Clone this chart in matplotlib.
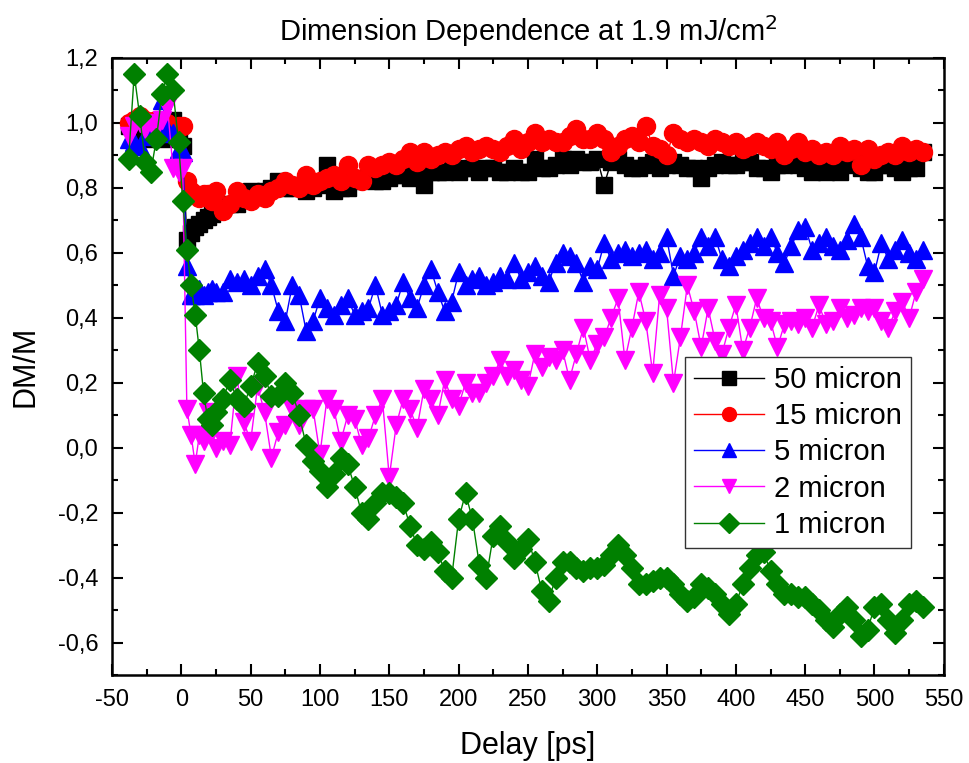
import numpy as np
import matplotlib
matplotlib.use("Agg")
import matplotlib.pyplot as plt
from matplotlib.ticker import MultipleLocator, FuncFormatter

plt.rcParams['font.family'] = ['Liberation Sans', 'DejaVu Sans']
plt.rcParams['axes.unicode_minus'] = False

# delay values [ps], shared by all five series
delay = [-38, -34, -30, -26, -22, -18, -14, -10, -6, -2,
         1, 4, 7, 10, 13, 16, 19, 22, 25,
         30, 35, 40, 45, 50, 55, 60, 65, 70, 75,
         80, 85, 90, 95, 100, 105, 110, 115, 120, 125,
         130, 135, 140, 145, 150, 155, 160, 165, 170, 175,
         180, 185, 190, 195, 200, 205, 210, 215, 220, 225,
         230, 235, 240, 245, 250, 255, 260, 265, 270, 275,
         280, 285, 290, 295, 300, 305, 310, 315, 320, 325,
         330, 335, 340, 345, 350, 355, 360, 365, 370, 375,
         380, 385, 390, 395, 400, 405, 410, 415, 420, 425,
         430, 435, 440, 445, 450, 455, 460, 465, 470, 475,
         480, 485, 490, 495, 500, 505, 510, 515, 520, 525,
         530, 535]

dm_50 = [0.99, 0.97, 0.96, 0.97, 0.95, 0.97, 0.95, 0.97, 1.01, 0.95,
         0.93, 0.64, 0.66, 0.68, 0.69, 0.70, 0.71, 0.72, 0.73,
         0.74, 0.75, 0.75, 0.77, 0.79, 0.78, 0.79, 0.80, 0.82, 0.80,
         0.80, 0.81, 0.79, 0.80, 0.81, 0.87, 0.79, 0.80, 0.80, 0.82,
         0.83, 0.83, 0.82, 0.82, 0.83, 0.84, 0.84, 0.83, 0.84, 0.81,
         0.85, 0.85, 0.85, 0.86, 0.85, 0.86, 0.86, 0.85, 0.86, 0.86,
         0.85, 0.85, 0.86, 0.85, 0.85, 0.89, 0.86, 0.86, 0.87, 0.89,
         0.87, 0.89, 0.88, 0.88, 0.89, 0.81, 0.88, 0.89, 0.87, 0.86,
         0.86, 0.87, 0.88, 0.86, 0.87, 0.88, 0.87, 0.86, 0.86, 0.83,
         0.86, 0.87, 0.88, 0.87, 0.87, 0.88, 0.88, 0.86, 0.86, 0.85,
         0.87, 0.87, 0.88, 0.87, 0.86, 0.85, 0.86, 0.85, 0.86, 0.85,
         0.87, 0.88, 0.86, 0.85, 0.85, 0.87, 0.87, 0.86, 0.85, 0.86,
         0.86, 0.91]

dm_15 = [1.00, 1.01, 1.02, 1.01, 1.00, 1.01, 0.99, 1.00, 0.98, 0.99,
         0.99, 0.82, 0.79, 0.78, 0.77, 0.78, 0.78, 0.76, 0.79,
         0.73, 0.75, 0.79, 0.77, 0.76, 0.78, 0.77, 0.79, 0.80, 0.82,
         0.81, 0.80, 0.84, 0.81, 0.82, 0.83, 0.84, 0.82, 0.87, 0.83,
         0.82, 0.87, 0.86, 0.87, 0.88, 0.87, 0.89, 0.91, 0.88, 0.91,
         0.89, 0.90, 0.91, 0.90, 0.92, 0.93, 0.91, 0.92, 0.93, 0.92,
         0.91, 0.93, 0.95, 0.92, 0.94, 0.97, 0.94, 0.95, 0.94, 0.94,
         0.96, 0.98, 0.95, 0.95, 0.97, 0.95, 0.91, 0.93, 0.95, 0.96,
         0.94, 0.99, 0.93, 0.92, 0.90, 0.97, 0.95, 0.94, 0.95, 0.94,
         0.93, 0.95, 0.94, 0.93, 0.94, 0.92, 0.93, 0.94, 0.93, 0.92,
         0.94, 0.90, 0.92, 0.94, 0.91, 0.92, 0.90, 0.91, 0.90, 0.93,
         0.91, 0.92, 0.87, 0.92, 0.89, 0.90, 0.91, 0.90, 0.93, 0.91,
         0.92, 0.91]

dm_5 = [0.95, 0.94, 0.93, 0.96, 0.98, 1.00, 1.07, 0.98, 0.97, 0.92,
        0.91, 0.56, 0.47, 0.47, 0.49, 0.47, 0.48, 0.49, 0.48,
        0.48, 0.52, 0.51, 0.52, 0.50, 0.53, 0.55, 0.50, 0.42, 0.39,
        0.50, 0.47, 0.36, 0.39, 0.46, 0.43, 0.41, 0.44, 0.46, 0.41,
        0.42, 0.43, 0.50, 0.41, 0.42, 0.44, 0.51, 0.46, 0.43, 0.50,
        0.55, 0.48, 0.42, 0.45, 0.54, 0.50, 0.52, 0.53, 0.50, 0.51,
        0.53, 0.52, 0.57, 0.52, 0.54, 0.56, 0.53, 0.51, 0.57, 0.60,
        0.59, 0.57, 0.51, 0.56, 0.55, 0.63, 0.58, 0.60, 0.61, 0.59,
        0.60, 0.61, 0.58, 0.60, 0.65, 0.53, 0.59, 0.58, 0.60, 0.65,
        0.62, 0.65, 0.58, 0.56, 0.59, 0.61, 0.63, 0.65, 0.62, 0.65,
        0.60, 0.57, 0.62, 0.67, 0.68, 0.61, 0.63, 0.65, 0.62, 0.61,
        0.64, 0.69, 0.65, 0.56, 0.54, 0.63, 0.58, 0.61, 0.64, 0.60,
        0.58, 0.61]

dm_2 = [0.96, 0.99, 1.00, 0.98, 1.00, 0.98, 1.01, 1.05, 0.86, 0.85,
        0.86, 0.12, 0.04, -0.05, 0.04, 0.02, 0.11, 0.05, 0.00,
        0.02, 0.01, 0.22, 0.08, 0.02, 0.19, 0.11, -0.03, 0.05, 0.07,
        0.12, 0.07, 0.12, 0.12, -0.02, 0.15, 0.12, 0.02, 0.10, 0.09,
        0.01, 0.03, 0.10, 0.15, -0.09, 0.07, 0.15, 0.12, 0.06, 0.18,
        0.15, 0.10, 0.21, 0.15, 0.13, 0.20, 0.17, 0.17, 0.20, 0.22,
        0.27, 0.22, 0.24, 0.21, 0.19, 0.29, 0.25, 0.28, 0.27, 0.30,
        0.21, 0.29, 0.37, 0.27, 0.32, 0.34, 0.40, 0.46, 0.27, 0.37,
        0.48, 0.39, 0.23, 0.47, 0.43, 0.20, 0.34, 0.50, 0.42, 0.31,
        0.43, 0.33, 0.29, 0.37, 0.44, 0.30, 0.37, 0.46, 0.40, 0.39,
        0.31, 0.38, 0.39, 0.38, 0.40, 0.37, 0.44, 0.38, 0.39, 0.43,
        0.40, 0.41, 0.43, 0.42, 0.43, 0.39, 0.37, 0.42, 0.45, 0.40,
        0.48, 0.52]

dm_1 = [0.89, 1.15, 1.02, 0.88, 0.85, 0.95, 1.09, 1.15, 1.10, 0.94,
        0.76, 0.61, 0.50, 0.41, 0.30, 0.17, 0.09, 0.07, 0.11,
        0.15, 0.21, 0.15, 0.13, 0.19, 0.26, 0.22, 0.16, 0.16, 0.20,
        0.17, 0.10, 0.01, -0.04, -0.07, -0.12, -0.08, -0.03, -0.05, -0.12,
        -0.20, -0.22, -0.17, -0.14, -0.14, -0.15, -0.17, -0.24, -0.30, -0.31,
        -0.29, -0.32, -0.38, -0.40, -0.22, -0.14, -0.22, -0.36, -0.40, -0.27,
        -0.24, -0.29, -0.34, -0.31, -0.28, -0.35, -0.44, -0.47, -0.40, -0.35,
        -0.35, -0.37, -0.38, -0.37, -0.37, -0.36, -0.33, -0.30, -0.33, -0.37,
        -0.42, -0.42, -0.41, -0.40, -0.40, -0.42, -0.45, -0.47, -0.46, -0.42,
        -0.43, -0.45, -0.48, -0.51, -0.48, -0.42, -0.37, -0.33, -0.32, -0.38,
        -0.42, -0.45, -0.45, -0.46, -0.46, -0.48, -0.50, -0.53, -0.55, -0.51,
        -0.49, -0.53, -0.58, -0.56, -0.49, -0.48, -0.53, -0.57, -0.53, -0.48,
        -0.47, -0.49]

labels = ["50 micron", "15 micron", "5 micron", "2 micron", "1 micron"]
colors = ["#000000", "#FF0000", "#0000FF", "#FF00FF", "#008000"]
markers = ["s", "o", "^", "v", "D"]
msizes = [11, 13, 13, 13, 11]

fig = plt.figure(figsize=(9.69, 7.63), dpi=100)
ax = fig.add_axes([0.1156, 0.115, 0.8584, 0.809])

for y, lab, c, m, ms in zip([dm_50, dm_15, dm_5, dm_2, dm_1], labels, colors, markers, msizes):
    ax.plot(delay, y, color=c, lw=1.0, marker=m, ms=ms, mec=c, mfc=c, label=lab)

ax.set_xlim(-50, 550)
ax.set_ylim(-0.7, 1.2)
ax.xaxis.set_major_locator(MultipleLocator(50))
ax.xaxis.set_minor_locator(MultipleLocator(25))
ax.yaxis.set_major_locator(MultipleLocator(0.2))
ax.yaxis.set_minor_locator(MultipleLocator(0.1))


def comma_fmt(v, pos):
    s = f"{v:.1f}".replace('.', ',')
    return "0,0" if s == "-0,0" else s


ax.yaxis.set_major_formatter(FuncFormatter(comma_fmt))
ax.tick_params(which='both', direction='in', top=True, right=True, width=1.5, labelsize=17)
ax.tick_params(which='major', length=8, pad=10)
ax.tick_params(which='minor', length=4)
for sp in ax.spines.values():
    sp.set_linewidth(1.8)

ax.set_xlabel("Delay [ps]", fontsize=22, labelpad=14)
ax.set_ylabel("DM/M", fontsize=22, labelpad=12)
ax.set_title("Dimension Dependence at 1.9 mJ/cm$^2$", fontsize=21, pad=12)

leg = ax.legend(loc='upper left', bbox_to_anchor=(0.689, 0.515), borderaxespad=0,
                fontsize=21, fancybox=False, framealpha=1, edgecolor='#333333',
                handlelength=2.4, labelspacing=0.28, borderpad=0.3, handletextpad=0.35)
leg.get_frame().set_linewidth(1.0)
for h in leg.legend_handles:
    h.set_markersize(10)

fig.savefig("out.png", dpi=100)
